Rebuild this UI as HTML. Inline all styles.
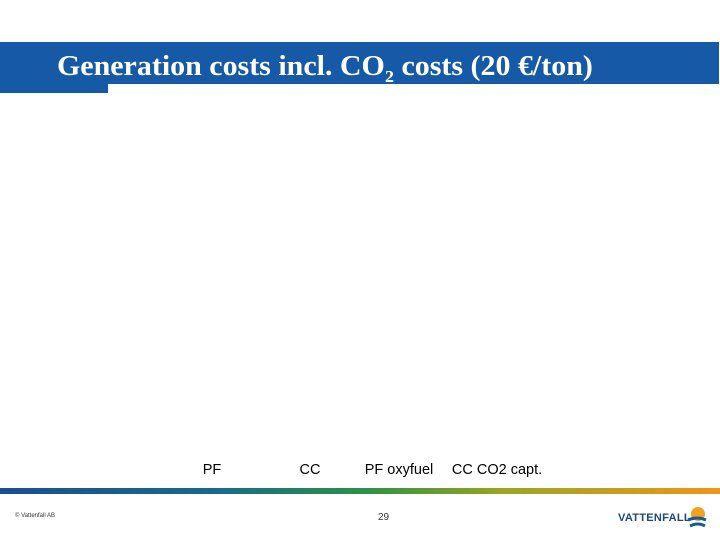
<!DOCTYPE html>
<html><head><meta charset="utf-8"><style>
body{margin:0;width:720px;height:540px;background:#fff;position:relative;overflow:hidden;font-family:"Liberation Sans",sans-serif}
.a{position:absolute}
</style></head><body>
<div class="a" style="left:0;top:42px;width:719px;height:42px;background:#1659a6"></div>
<div class="a" style="left:0;top:84px;width:108px;height:9px;background:#1659a6"></div>
<div class="a" style="left:57px;top:51px;font-family:'Liberation Serif',serif;font-size:28px;font-weight:bold;color:#fff;white-space:nowrap;transform:scaleX(1.07);transform-origin:left">Generation costs incl. CO<sub style="font-size:17px;vertical-align:-7px">2</sub> costs (20 €/ton)</div>
<svg class="a" style="left:0;top:0" width="720" height="540">
<g id="cats"></g>
</svg>
<div class="a" style="left:0;top:488px;width:720px;height:6px;background:linear-gradient(90deg,#1a4f93 0%,#1a6a88 30%,#2a9048 50%,#9aa621 70%,#f0951a 100%)"></div>
<div class="a" style="left:15px;top:513px;font-size:6px;color:#333">© Vattenfall AB</div>
<div class="a" style="left:378px;top:512px;font-size:10px;color:#333">29</div>
<div class="a" style="left:618px;top:512px;font-size:11px;font-weight:bold;color:#1a4a7a;letter-spacing:0.3px">VATTENFALL</div>
<svg class="a" style="left:686px;top:505px" width="22" height="24">
<circle cx="12" cy="9" r="7" fill="#f2a21c"/>
<path d="M2 15 Q11 11 20 15" stroke="#1a5a9a" stroke-width="3" fill="none"/>
<path d="M4 21 Q12 17 19 21" stroke="#1a5a9a" stroke-width="3" fill="none"/>
</svg>
<script>
const categories=["PF","CC","PF oxyfuel","CC CO2 capt."];
const categoryCenters=[0,1,2,3];
const x0=212, step=97;
function xScale(i){return x0+i*step;}
const nudges=[0,1,-7,-6];
const g=document.getElementById('cats');
categories.forEach((c,i)=>{
 const t=document.createElementNS('http://www.w3.org/2000/svg','text');
 
 
 t.setAttribute('x',xScale(categoryCenters[i])+nudges[i]);
 t.setAttribute('y',474);
 t.setAttribute('text-anchor','middle');
 t.setAttribute('font-size','14.5');
 t.setAttribute('font-family','Liberation Sans, sans-serif');
 t.textContent=c;
 g.appendChild(t);
});
</script>
</body></html>
